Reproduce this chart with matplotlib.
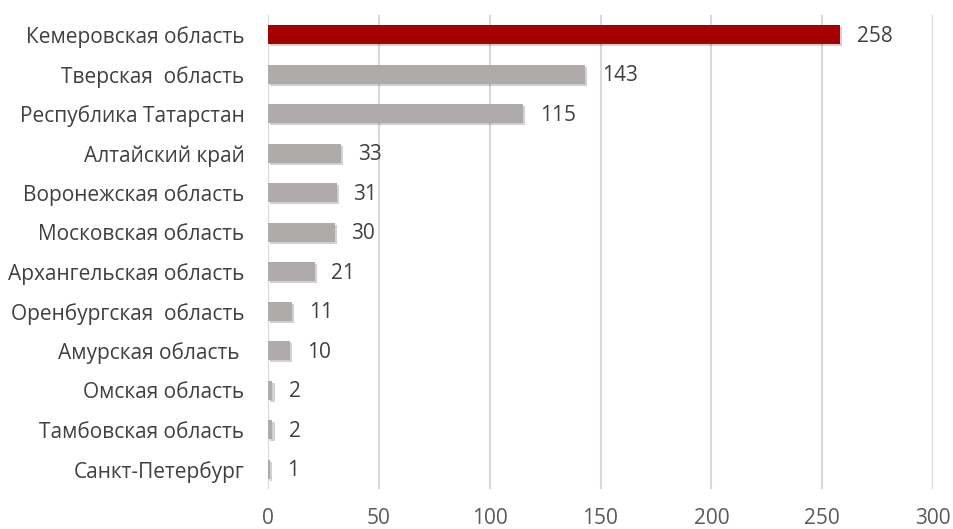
import matplotlib
matplotlib.use("Agg")
import matplotlib.pyplot as plt
import matplotlib.patheffects as pe

categories = ["Кемеровская область", "Тверская  область", "Республика Татарстан",
              "Алтайский край", "Воронежская область", "Московская область",
              "Архангельская область", "Оренбургская  область", "Амурская область ",
              "Омская область", "Тамбовская область", "Санкт-Петербург"]
values = [258, 143, 115, 33, 31, 30, 21, 11, 10, 2, 2, 1]
xticks = [0, 50, 100, 150, 200, 250, 300]

plt.rcParams['font.family'] = ['Open Sans', 'DejaVu Sans']

fig = plt.figure(figsize=(9.54, 5.29), dpi=100)
ax = fig.add_axes([268/954, 1-489/529, (933-268)/954, (489-15)/529])

n = len(categories)
ypos = list(range(n))
colors = ['#A50000'] + ['#AFABAB'] * (n - 1)
bars = ax.barh(ypos, values, height=0.48, color=colors, zorder=3)
for b in bars:
    b.set_path_effects([pe.SimplePatchShadow(offset=(1.5, -1.5), shadow_rgbFace='#000000', alpha=0.18),
                        pe.Normal()])

for y, v in zip(ypos, values):
    ax.annotate(str(v), (v, y), xytext=(12, -1), textcoords='offset points',
                ha='left', va='center', fontsize=15, color='#404040')

ax.set_xlim(0, 300)
ax.set_ylim(n - 0.5, -0.5)
ax.set_xticks(xticks)
ax.set_yticks(ypos)
ax.set_yticklabels(categories)
ax.tick_params(axis='x', length=0, pad=13.5, labelsize=15, labelcolor='#595959')
ax.tick_params(axis='y', length=0, pad=17, labelsize=15, labelcolor='#404040')
ax.grid(axis='x', color='#D9D9D9', linewidth=1.5, zorder=0)
ax.set_axisbelow(True)
for s in ax.spines.values():
    s.set_visible(False)

fig.savefig("out.png", dpi=100)
